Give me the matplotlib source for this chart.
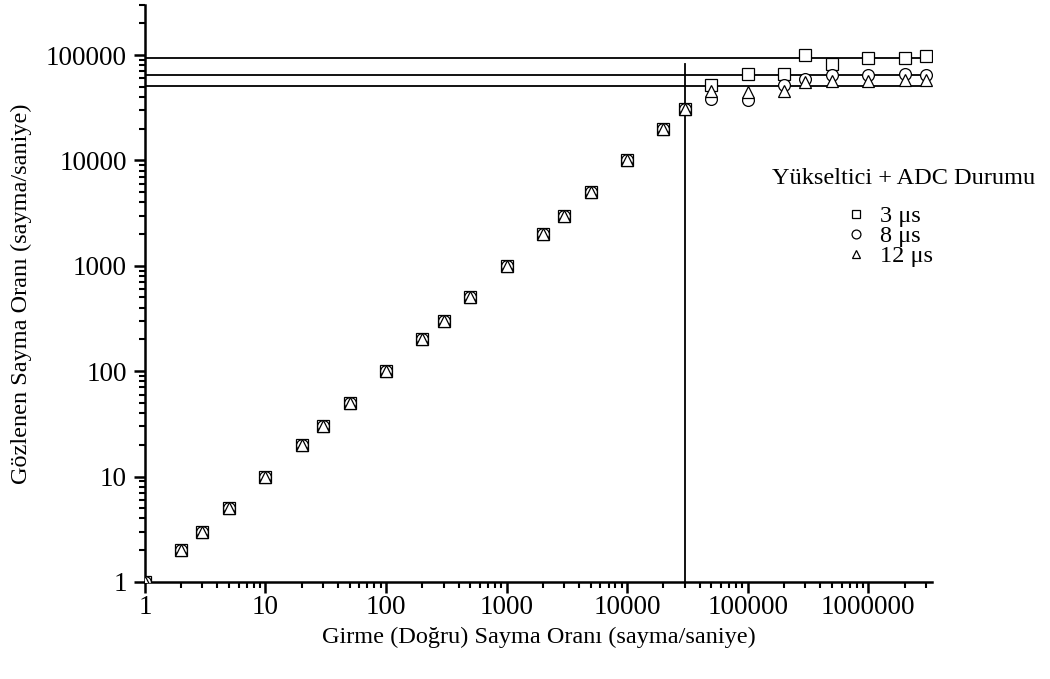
import matplotlib.pyplot as plt
from matplotlib.ticker import FixedLocator, FuncFormatter, LogLocator, NullFormatter

plt.rcParams['font.family'] = ['Liberation Serif', 'DejaVu Serif']

# input (true) count rate
x_rate = [1, 2, 3, 5, 10, 20, 30, 50, 100, 200, 300, 500, 1000, 2000, 3000,
          5000, 10000, 20000, 30000, 50000, 100000, 200000, 300000, 500000,
          1000000, 2000000, 3000000]

# observed count rate for each shaping time
low = [1, 2, 3, 5, 10, 20, 30, 50, 100, 200, 300, 500, 1000, 2000, 3000,
       5000, 10000, 20000, 30500]
obs_3us = low + [52000, 66500, 66500, 99000, 83000, 94500, 94500, 98000]
obs_8us = low + [38500, 37500, 52000, 59500, 64000, 64000, 66000, 64000]
obs_12us = low + [46000, 44500, 46000, 56000, 57000, 57000, 58500, 58500]

series_labels = ['3 μs', '8 μs', '12 μs']
legend_title = 'Yükseltici + ADC Durumu'
sat_levels = [94300, 64500, 50700]
cut_x = 30000
cut_top = 83000

fig = plt.figure(figsize=(10.5, 6.79), dpi=100)
ax = fig.add_axes([0.138, 0.143, 0.750, 0.850])

for lvl in sat_levels:
    ax.axhline(lvl, color='black', lw=1.3, zorder=1)
ax.plot([cut_x, cut_x], [1, cut_top], color='black', lw=1.3, zorder=1)

mk = dict(ls='none', mfc='white', mec='black', mew=0.9, ms=8.5, zorder=3)
ax.plot(x_rate, obs_3us, marker='s', label=series_labels[0], **mk)
ax.plot(x_rate, obs_8us, marker='o', label=series_labels[1], **mk)
ax.plot(x_rate, obs_12us, marker='^', label=series_labels[2], **mk)

ax.set_xscale('log')
ax.set_yscale('log')
ax.set_xlim(1, 3.4e6)
ax.set_ylim(1, 3e5)

ax.xaxis.set_major_locator(FixedLocator([10 ** i for i in range(7)]))
ax.yaxis.set_major_locator(FixedLocator([10 ** i for i in range(6)]))
ax.xaxis.set_minor_locator(LogLocator(base=10, subs=range(2, 10), numticks=20))
ax.yaxis.set_minor_locator(LogLocator(base=10, subs=range(2, 10), numticks=20))
fmt = FuncFormatter(lambda v, p: '%d' % round(v))
ax.xaxis.set_major_formatter(fmt)
ax.yaxis.set_major_formatter(fmt)
ax.xaxis.set_minor_formatter(NullFormatter())
ax.yaxis.set_minor_formatter(NullFormatter())

for s in ['top', 'right']:
    ax.spines[s].set_visible(False)
for s in ['left', 'bottom']:
    ax.spines[s].set_linewidth(1.8)
ax.tick_params(which='major', direction='out', length=8, width=1.8, labelsize=19.5, pad=5)
ax.tick_params(which='minor', direction='out', length=4.5, width=1.5)
ax.tick_params(axis='x', which='major', pad=1.5)

ax.set_xlabel('Girme (Doğru) Sayma Oranı (sayma/saniye)', fontsize=17.5, labelpad=4.5)
ax.set_ylabel('Gözlenen Sayma Oranı (sayma/saniye)', fontsize=17.5, labelpad=10)

# legend title drawn separately so the gap below it can be set
fig.text(0.861, 1 - 179 / 679, legend_title, fontsize=17.5, ha='center', va='center')
leg = fig.legend(loc='upper center', bbox_to_anchor=(0.846, 1 - 193 / 679), frameon=False,
                 fontsize=17.5, markerscale=0.75, handlelength=1.0, handletextpad=0.5,
                 labelspacing=-0.08, borderpad=0.0)

fig.savefig('out.png', dpi=100)
